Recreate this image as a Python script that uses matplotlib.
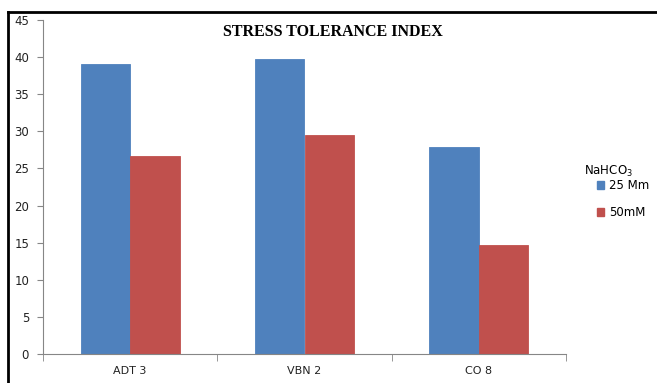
import numpy as np
import matplotlib.pyplot as plt
from matplotlib.lines import Line2D
from matplotlib.patches import Patch

# datos
variedades = ["ADT 3", "VBN 2", "CO 8"]
sti_25 = [39.1, 39.8, 27.9]
sti_50 = [26.7, 29.5, 14.7]
series = ["25 Mm", "50mM"]

azul = "#4f81bd"
rojo = "#c0504d"
gris = "#868686"

fig = plt.figure(figsize=(6.57, 3.83), dpi=100)
ax = fig.add_axes([43/657, 29/383, (566-43)/657, (354-20)/383])

x = np.arange(len(variedades))
w = 0.283
ax.bar(x - w/2, sti_25, w, color=azul, label=series[0], linewidth=0.6, edgecolor=azul)
ax.bar(x + w/2, sti_50, w, color=rojo, label=series[1], linewidth=0.6, edgecolor=rojo)

ax.set_xlim(-0.5, len(variedades) - 0.5)
ax.set_ylim(0, 45)
ax.set_yticks(np.arange(0, 46, 5))
ax.set_xticks(x)
ax.set_xticklabels(variedades)
ax.set_xticks(np.arange(-0.5, len(variedades), 1), minor=True)
ax.tick_params(axis="x", which="major", length=0, pad=9, labelsize=8, colors="#222222")
ax.tick_params(axis="x", which="minor", length=5, color=gris)
ax.tick_params(axis="y", length=4, color=gris, labelsize=8.5, labelcolor="#222222", pad=6)

for s in ["top", "right"]:
    ax.spines[s].set_visible(False)
ax.spines["left"].set_color(gris)
ax.spines["bottom"].set_color(gris)

fig.text(333/657, 1 - 32/383, "STRESS TOLERANCE INDEX", ha="center",
         va="center", fontsize=11.5, fontweight="bold", family="Liberation Serif")

# leyenda
fig.text(608/657, 1 - 171/383, "NaHCO$_3$", ha="center", va="center", fontsize=8.5)
handles = [Patch(color=azul), Patch(color=rojo)]
fig.legend(handles, series, loc="upper left", bbox_to_anchor=(597/657, 1 - 179/383),
           frameon=False, fontsize=8.5, handlelength=0.6, handleheight=0.6,
           handletextpad=0.4, labelspacing=1.2, borderpad=0, borderaxespad=0)

# marco de la imagen
fig.add_artist(Line2D([7.5/657, 1], [1 - 11.5/383, 1 - 11.5/383], color="black", lw=2))
fig.add_artist(Line2D([7.5/657, 7.5/657], [0, 1 - 11.5/383], color="black", lw=2))

fig.savefig("out.png", dpi=100)
